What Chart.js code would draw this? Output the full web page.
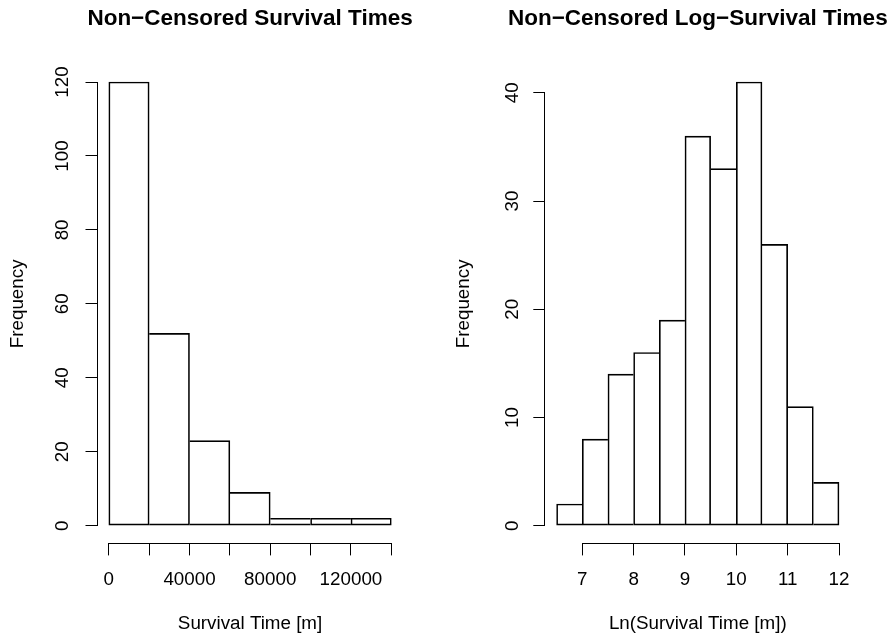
<!DOCTYPE html>
<html lang="en">
<head>
  <meta charset="UTF-8" />
  <title>Non-Censored Survival Times</title>
  <style>
    body { margin: 0; background: #fff; }
    .panel { position: absolute; top: 0; width: 446px; height: 642px; }
    #leftPanel { left: 0; }
    #rightPanel { left: 446px; }
  </style>
</head>
<body>
  <div class="panel" id="leftPanel"><canvas id="survChart" width="446" height="642"></canvas></div>
  <div class="panel" id="rightPanel"><canvas id="logChart" width="446" height="642"></canvas></div>

  <script src="https://cdn.jsdelivr.net/npm/chart.js"></script>
  <script>
    // Histogram of survival times (bin breaks + counts)
    const survBreaks = [0, 20000, 40000, 60000, 80000, 100000, 120000, 140000];
    const survCounts = [120, 52, 23, 9, 2, 2, 2];
    const survYTicks = [0, 20, 40, 60, 80, 100, 120];
    const survXTicks = [0, 20000, 40000, 60000, 80000, 100000, 120000, 140000];
    const survXLabels = [0, 40000, 80000, 120000];

    // Histogram of log survival times
    const logBreaks = [6.5, 7, 7.5, 8, 8.5, 9, 9.5, 10, 10.5, 11, 11.5, 12];
    const logCounts = [2, 8, 14, 16, 19, 36, 33, 41, 26, 11, 4];
    const logYTicks = [0, 10, 20, 30, 40];
    const logXTicks = [7, 8, 9, 10, 11, 12];
    const logXLabels = [7, 8, 9, 10, 11, 12];

    const FONT = "'Liberation Sans', Arial, Helvetica, sans-serif";
    const TXT = 18.8;
    Chart.defaults.font.family = FONT;
    Chart.defaults.color = '#000';

    // R pads axis limits by 4% on each side
    function rRange(lo, hi) {
      const d = (hi - lo) * 0.04;
      return [lo - d, hi + d];
    }

    // R-style axis lines (first to last tick only) + main title over the plot region
    const rDecor = {
      id: 'rDecor',
      afterDraw(chart, args, opts) {
        const { ctx, chartArea, scales: { x, y } } = chart;
        const xt = x.ticks, yt = y.ticks;
        ctx.save();
        ctx.strokeStyle = '#000';
        ctx.lineWidth = 1;
        ctx.beginPath();
        const by = Math.round(chartArea.bottom) + 0.5;
        ctx.moveTo(x.getPixelForValue(xt[0].value), by);
        ctx.lineTo(x.getPixelForValue(xt[xt.length - 1].value), by);
        const lx = Math.round(chartArea.left) - 0.5;
        ctx.moveTo(lx, y.getPixelForValue(yt[0].value));
        ctx.lineTo(lx, y.getPixelForValue(yt[yt.length - 1].value));
        ctx.stroke();

        ctx.fillStyle = '#000';
        ctx.font = 'bold 22.5px ' + FONT;
        ctx.textAlign = 'center';
        ctx.textBaseline = 'alphabetic';
        ctx.fillText(opts.text, (chartArea.left + chartArea.right) / 2, 25);
        ctx.restore();
      }
    };

    function makeHist(id, cfg) {
      const centers = cfg.counts.map((c, i) => (cfg.breaks[i] + cfg.breaks[i + 1]) / 2);
      const points = centers.map((c, i) => ({ x: c, y: cfg.counts[i] }));
      const [xmin, xmax] = rRange(cfg.breaks[0], cfg.breaks[cfg.breaks.length - 1]);
      const [ymin, ymax] = rRange(0, Math.max(...cfg.counts));
      const n = cfg.counts.length;

      return new Chart(document.getElementById(id), {
        type: 'bar',
        data: {
          datasets: [{
            data: points,
            backgroundColor: 'rgba(255,255,255,0)',
            borderColor: '#000',
            borderSkipped: false,
            borderWidth: (ctx) => {
              const i = ctx.dataIndex, c = cfg.counts;
              return {
                top: 1, bottom: 1,
                left: (i === 0 || c[i - 1] <= c[i]) ? 1 : 0,
                right: (i === n - 1 || c[i + 1] < c[i]) ? 1 : 0
              };
            },
            barPercentage: 1,
            categoryPercentage: 1
          }]
        },
        options: {
          responsive: false,
          animation: false,
          layout: { padding: { left: 0, right: cfg.padRight, top: 64.3, bottom: 0 } },
          plugins: {
            legend: { display: false },
            tooltip: { enabled: false },
            rDecor: { text: cfg.title }
          },
          scales: {
            x: {
              type: 'linear',
              offset: false,
              min: xmin,
              max: xmax,
              afterBuildTicks: (s) => { s.ticks = cfg.xTicks.map(v => ({ value: v })); },
              afterFit: (s) => { s.height = 98.6; },
              border: { display: false },
              grid: { display: true, offset: false, drawOnChartArea: false, drawTicks: true, tickLength: 12, color: '#000', lineWidth: 1 },
              ticks: {
                autoSkip: false, maxRotation: 0, minRotation: 0, padding: 13,
                font: { size: TXT }, color: '#000',
                callback: (v) => cfg.xLabels.includes(v) ? String(v) : ''
              },
              title: { display: true, text: cfg.xTitle, font: { size: TXT }, color: '#000', padding: { top: 0, bottom: 6.5 } }
            },
            y: {
              type: 'linear',
              min: ymin,
              max: ymax,
              afterBuildTicks: (s) => { s.ticks = cfg.yTicks.map(v => ({ value: v })); },
              afterFit: (s) => { s.width = cfg.axisLeft; },
              border: { display: false },
              grid: { display: true, drawOnChartArea: false, drawTicks: true, tickLength: 12, color: '#000', lineWidth: 1 },
              ticks: {
                autoSkip: false, minRotation: 90, maxRotation: 90, crossAlign: 'center',
                padding: cfg.yPad, font: { size: TXT }, color: '#000',
                callback: (v) => String(v)
              },
              title: { display: true, text: 'Frequency', font: { size: TXT }, color: '#000', padding: { top: 7, bottom: 0 } }
            }
          }
        },
        plugins: [rDecor]
      });
    }

    makeHist('survChart', {
      breaks: survBreaks, counts: survCounts,
      xTicks: survXTicks, xLabels: survXLabels, yTicks: survYTicks,
      title: 'Non\u2212Censored Survival Times', xTitle: 'Survival Time [m]',
      axisLeft: 97.5, padRight: 43.4, yPad: 6.7
    });

    makeHist('logChart', {
      breaks: logBreaks, counts: logCounts,
      xTicks: logXTicks, xLabels: logXLabels, yTicks: logYTicks,
      title: 'Non\u2212Censored Log\u2212Survival Times', xTitle: 'Ln(Survival Time [m])',
      axisLeft: 99.3, padRight: 41.7, yPad: 10.5
    });
  </script>
</body>
</html>
